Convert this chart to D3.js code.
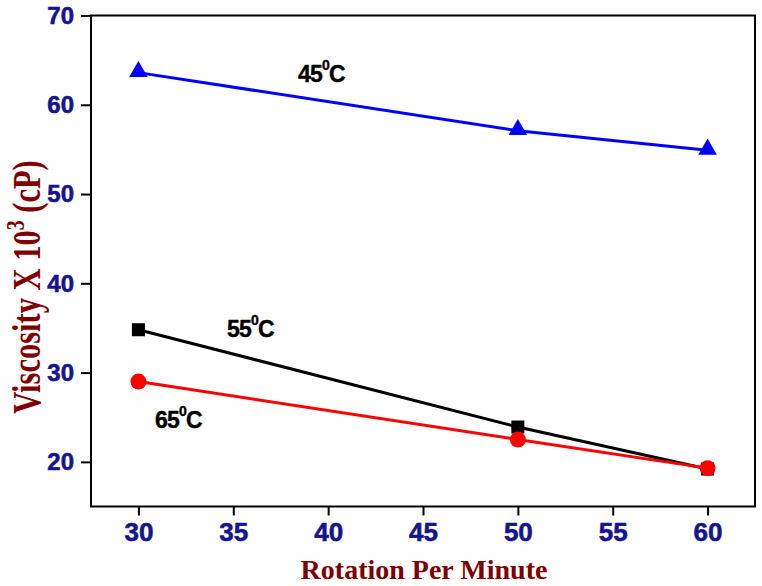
<!DOCTYPE html>
<html><head><meta charset="utf-8">
<script src="https://cdn.jsdelivr.net/npm/d3@7"></script>
<style>body{margin:0;background:#fff}svg{display:block}</style>
</head><body>
<svg id="c" width="762" height="586"></svg>
<script>
const rpm = [30, 50, 60];
const visc45 = [63.6, 57.1, 54.9];
const visc55 = [34.8, 23.9, 19.2];
const visc65 = [29.0, 22.5, 19.3];
const xTicks = [30, 35, 40, 45, 50, 55, 60];
const yTicks = [20, 30, 40, 50, 60, 70];
const labels = ["45", "55", "65"];

const svg = d3.select("#c");
const L = 91, R = 755, T = 15.5, B = 506.5;
const x = d3.scaleLinear().domain([27.5, 62.5]).range([L, R]);
const y = d3.scaleLinear().domain([15, 70]).range([B, T]);
const tickColor = "#15158f";

// frame
svg.append("rect").attr("x", L).attr("y", T).attr("width", R - L).attr("height", B - T)
  .attr("fill", "none").attr("stroke", "#000").attr("stroke-width", 2);

const xa = svg.append("g").attr("transform", `translate(0,${B})`)
  .call(d3.axisBottom(x).tickValues(xTicks).tickSize(9).tickPadding(7).tickFormat(d3.format("d")));
xa.select(".domain").remove();
xa.selectAll("line").attr("stroke", "#000").attr("stroke-width", 2);
xa.selectAll("text").attr("fill", tickColor).attr("font-family", "Liberation Sans, Arial, sans-serif")
  .attr("font-weight", "bold").attr("font-size", 26).attr("stroke", tickColor).attr("stroke-width", 0.6);

const ya = svg.append("g").attr("transform", `translate(${L},0)`)
  .call(d3.axisLeft(y).tickValues(yTicks).tickSize(10).tickPadding(7).tickFormat(d3.format("d")));
ya.select(".domain").remove();
ya.selectAll("line").attr("stroke", "#000").attr("stroke-width", 2);
ya.selectAll("text").attr("fill", tickColor).attr("font-family", "Liberation Sans, Arial, sans-serif")
  .attr("font-weight", "bold").attr("font-size", 24).attr("stroke", tickColor).attr("stroke-width", 0.6);

const series = [
  {v: visc45, color: "#0000ff", shape: d3.symbolTriangle, size: 150},
  {v: visc55, color: "#000000", shape: d3.symbolSquare, size: 170},
  {v: visc65, color: "#ff0000", shape: d3.symbolCircle, size: 200}
];
const line = d3.line().x(d => x(d[0])).y(d => y(d[1]));
series.forEach(s => {
  const pts = rpm.map((r, i) => [r, s.v[i]]);
  svg.append("path").attr("d", line(pts)).attr("fill", "none")
    .attr("stroke", s.color).attr("stroke-width", 3);
  svg.selectAll(null).data(pts).enter().append("path")
    .attr("d", d3.symbol().type(s.shape).size(s.size))
    .attr("transform", d => `translate(${x(d[0])},${y(d[1]) + (s.shape === d3.symbolTriangle ? -1 : 0)})`)
    .attr("fill", s.color);
});

// temperature labels
const lab = [
  {t: labels[0], px: 298, py: 82},
  {t: labels[1], px: 227, py: 337},
  {t: labels[2], px: 155, py: 428}
];
lab.forEach(l => {
  const tx = svg.append("text").attr("x", l.px).attr("y", l.py)
    .attr("font-family", "Liberation Sans, Arial, sans-serif").attr("font-weight", "bold")
    .attr("font-size", 23).attr("fill", "#000").attr("letter-spacing", -0.8)
    .attr("stroke", "#000").attr("stroke-width", 0.4);
  tx.append("tspan").text(l.t);
  tx.append("tspan").attr("dy", -12).attr("font-size", 14).text("0");
  tx.append("tspan").attr("dy", 12).text("C");
});

// axis titles
svg.append("text").attr("x", 424).attr("y", 579).attr("text-anchor", "middle")
  .attr("font-family", "Liberation Serif, Times New Roman, serif").attr("font-weight", "bold")
  .attr("font-size", 28).attr("fill", "#800000").text("Rotation Per Minute");

const yt = svg.append("text").attr("transform", "translate(40,287) rotate(-90) scale(1,1.3)")
  .attr("text-anchor", "middle")
  .attr("font-family", "Liberation Serif, Times New Roman, serif").attr("font-weight", "bold")
  .attr("font-size", 30.5).attr("fill", "#800000");
yt.append("tspan").text("Viscosity X 10");
yt.append("tspan").attr("dy", -12).attr("font-size", 20).text("3");
yt.append("tspan").attr("dy", 12).text(" (cP)");
</script>
</body></html>
